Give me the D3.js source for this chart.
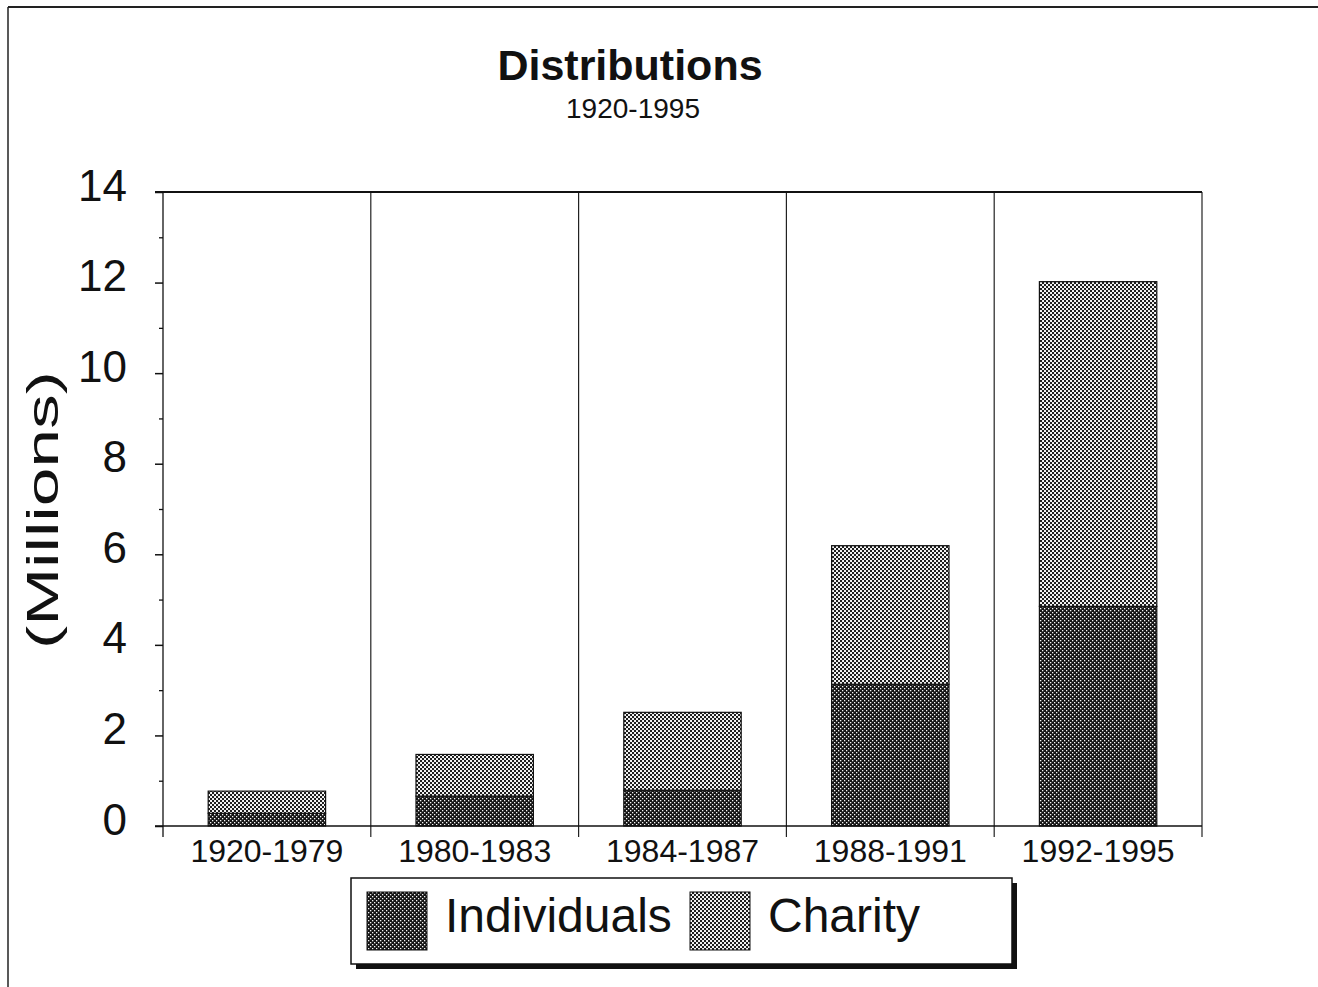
<!DOCTYPE html>
<html>
<head>
<meta charset="utf-8">
<script src="https://cdn.jsdelivr.net/npm/d3@7"></script>
<style>
  html, body { margin: 0; padding: 0; background: #fff; }
  svg { display: block; }
  text { font-family: "Liberation Sans", Arial, sans-serif; fill: #111; }
</style>
</head>
<body>
<svg id="chart" width="1318" height="987"></svg>
<script>
const categories = ["1920-1979", "1980-1983", "1984-1987", "1988-1991", "1992-1995"];
const individuals = [0.28, 0.66, 0.79, 3.13, 4.85];
const charity = [0.49, 0.92, 1.72, 3.06, 7.17];
const seriesNames = ["Individuals", "Charity"];
const majorTicks = [0, 2, 4, 6, 8, 10, 12, 14];
const minorTicks = [1, 3, 5, 7, 9, 11, 13];
const titleText = "Distributions";
const subtitleText = "1920-1995";
const yLabel = "(Millions)";

const svg = d3.select("#chart");
const defs = svg.append("defs");

// dithered patterns
const pInd = defs.append("pattern").attr("id", "pInd").attr("patternUnits", "userSpaceOnUse")
  .attr("width", 4).attr("height", 4);
pInd.append("rect").attr("width", 4).attr("height", 4).attr("fill", "#141414");
pInd.append("rect").attr("x", 0).attr("y", 0).attr("width", 1.3).attr("height", 1.3).attr("fill", "#f4f4f4");
pInd.append("rect").attr("x", 2).attr("y", 2).attr("width", 1.3).attr("height", 1.3).attr("fill", "#f4f4f4");

const pCha = defs.append("pattern").attr("id", "pCha").attr("patternUnits", "userSpaceOnUse")
  .attr("width", 4).attr("height", 4);
pCha.append("rect").attr("width", 4).attr("height", 4).attr("fill", "#f6f6f6");
pCha.append("rect").attr("x", 0).attr("y", 0).attr("width", 2.05).attr("height", 2.05).attr("fill", "#1e1e1e");
pCha.append("rect").attr("x", 2).attr("y", 2).attr("width", 2.05).attr("height", 2.05).attr("fill", "#1e1e1e");

const fills = ["url(#pInd)", "url(#pCha)"];

// outer scan frame
svg.append("line").attr("x1", 8).attr("x2", 1318).attr("y1", 7).attr("y2", 7)
  .attr("stroke", "#222").attr("stroke-width", 2);
svg.append("line").attr("x1", 8).attr("x2", 8).attr("y1", 7).attr("y2", 987)
  .attr("stroke", "#222").attr("stroke-width", 1.5);

// titles
svg.append("text").attr("x", 630).attr("y", 80).attr("text-anchor", "middle")
  .attr("font-size", 43).attr("font-weight", "bold").text(titleText);
svg.append("text").attr("x", 633).attr("y", 118).attr("text-anchor", "middle")
  .attr("font-size", 28).text(subtitleText);

// scales
const x = d3.scaleBand().domain(categories).range([163, 1202]).padding(0);
const y = d3.scaleLinear().domain([0, 14]).range([826, 192]);
const barFrac = 0.565;
const bw = x.bandwidth() * barFrac;

// stacked data
const rows = categories.map((c, i) => ({ cat: c, Individuals: individuals[i], Charity: charity[i] }));
const stack = d3.stack().keys(seriesNames)(rows);

// separators between categories
svg.append("g").selectAll("line").data(categories.slice(1).concat(["__end"]))
  .join("line")
  .attr("x1", d => d === "__end" ? x.range()[1] : x(d))
  .attr("x2", d => d === "__end" ? x.range()[1] : x(d))
  .attr("y1", y(14)).attr("y2", y(0) + 11)
  .attr("stroke", "#222").attr("stroke-width", 1.2);

// top plot line
svg.append("line").attr("x1", 155).attr("x2", 1202).attr("y1", y(14)).attr("y2", y(14))
  .attr("stroke", "#111").attr("stroke-width", 2);

// bars
stack.forEach((layer, li) => {
  svg.append("g").selectAll("rect").data(layer).join("rect")
    .attr("x", d => x(d.data.cat) + (x.bandwidth() - bw) / 2)
    .attr("width", bw)
    .attr("y", d => y(d[1]))
    .attr("height", d => y(d[0]) - y(d[1]))
    .attr("fill", fills[li])
    .attr("stroke", "#111").attr("stroke-width", 1.2);
});

// y axis
const yAxis = svg.append("g").attr("transform", "translate(163,0)")
  .call(d3.axisLeft(y).tickValues(majorTicks).tickSize(8).tickPadding(28).tickFormat(d3.format("d")));
yAxis.select(".domain").remove();
yAxis.selectAll(".tick line").attr("stroke", "#111").attr("stroke-width", 1.5);
yAxis.selectAll(".tick text").attr("font-size", 44).attr("font-family", "Liberation Sans, Arial, sans-serif")
  .attr("fill", "#111").attr("dy", "0.32em").attr("y", -6);
const yMinor = svg.append("g").attr("transform", "translate(163,0)")
  .call(d3.axisLeft(y).tickValues(minorTicks).tickSize(4).tickFormat(""));
yMinor.select(".domain").remove();
yMinor.selectAll(".tick line").attr("stroke", "#111").attr("stroke-width", 1.3);
svg.append("line").attr("x1", 163).attr("x2", 163).attr("y1", y(14)).attr("y2", y(0) + 11)
  .attr("stroke", "#111").attr("stroke-width", 1.3);

// x axis baseline
svg.append("line").attr("x1", 155).attr("x2", 1202).attr("y1", y(0)).attr("y2", y(0))
  .attr("stroke", "#111").attr("stroke-width", 1.5);

// category labels
svg.append("g").selectAll("text").data(categories).join("text")
  .attr("x", d => x(d) + x.bandwidth() / 2)
  .attr("y", 862)
  .attr("text-anchor", "middle")
  .attr("font-size", 32)
  .text(d => d);

// y label
svg.append("text")
  .attr("transform", "translate(58,510) rotate(-90)")
  .attr("text-anchor", "middle")
  .attr("font-size", 44)
  .attr("textLength", 278)
  .attr("lengthAdjust", "spacingAndGlyphs")
  .text(yLabel);

// legend
const lg = svg.append("g");
lg.append("rect").attr("x", 356).attr("y", 883).attr("width", 661).attr("height", 86).attr("fill", "#111");
lg.append("rect").attr("x", 351).attr("y", 878).attr("width", 661).attr("height", 86)
  .attr("fill", "#fff").attr("stroke", "#111").attr("stroke-width", 1.5);
const legendItems = [
  { name: seriesNames[0], fill: fills[0], sx: 367, tx: 445 },
  { name: seriesNames[1], fill: fills[1], sx: 690, tx: 768 }
];
legendItems.forEach(it => {
  lg.append("rect").attr("x", it.sx).attr("y", 892).attr("width", 60).attr("height", 58)
    .attr("fill", it.fill).attr("stroke", "#111").attr("stroke-width", 1);
  lg.append("text").attr("x", it.tx).attr("y", 932).attr("font-size", 48).text(it.name);
});
</script>
</body>
</html>
